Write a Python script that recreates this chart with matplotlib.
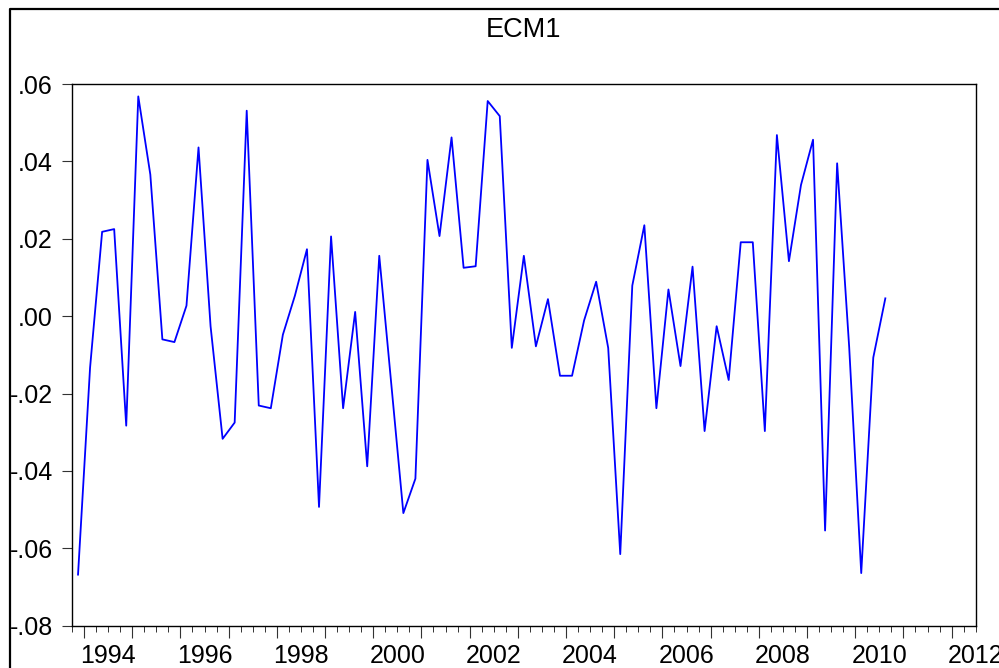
import numpy as np
import matplotlib.pyplot as plt
from matplotlib.lines import Line2D
from matplotlib.ticker import FuncFormatter, MultipleLocator

plt.rcParams['font.family'] = ['Liberation Sans', 'DejaVu Sans']

# ECM1 residual series, quarterly, 1993Q4 - 2010Q3
ecm1 = [
    -0.0668, -0.0133, 0.0218, 0.0225, -0.0283, 0.0568, 0.0366, -0.0060,
    -0.0067, 0.0027, 0.0436, -0.0026, -0.0317, -0.0275, 0.0531, -0.0231,
    -0.0238, -0.0048, 0.0053, 0.0173, -0.0493, 0.0206, -0.0238, 0.0011,
    -0.0388, 0.0156, -0.0176, -0.0509, -0.0420, 0.0404, 0.0207, 0.0462,
    0.0125, 0.0129, 0.0556, 0.0517, -0.0082, 0.0156, -0.0078, 0.0044,
    -0.0154, -0.0154, -0.0011, 0.0089, -0.0082, -0.0615, 0.0079, 0.0235,
    -0.0238, 0.0069, -0.0129, 0.0128, -0.0297, -0.0026, -0.0165, 0.0191,
    0.0191, -0.0297, 0.0468, 0.0142, 0.0339, 0.0456, -0.0554, 0.0395,
    -0.0080, -0.0664, -0.0107, 0.0046,
]
first_year, first_quarter = 1993, 4
year_labels = list(range(1994, 2013, 2))

# each quarter is plotted at the middle of its interval
start = first_year + (first_quarter - 1) / 4
t = start + 0.125 + 0.25 * np.arange(len(ecm1))

W, H = 999, 668
fig = plt.figure(figsize=(W / 100, H / 100), dpi=100)
ax = fig.add_axes([72 / W, 1 - 625.7 / H, 903.7 / W, 541.7 / H])

ax.plot(t, ecm1, color='#0000ff', lw=1.3)

ax.set_xlim(start, 2012.5)
ax.set_ylim(-0.08, 0.06)


def dot_fmt(v, pos):
    s = f'{round(v, 4):.2f}'
    return s.replace('0.', '.', 1)


ax.yaxis.set_major_locator(MultipleLocator(0.02))
ax.yaxis.set_major_formatter(FuncFormatter(dot_fmt))
ax.tick_params(axis='y', direction='out', length=7.2, width=0.8,
               color='#333333', pad=6.5, labelsize=18)

ax.xaxis.set_major_locator(MultipleLocator(1))
ax.xaxis.set_minor_locator(MultipleLocator(0.25))
ax.tick_params(axis='x', which='major', direction='out', length=8.5,
               width=0.8, color='#333333', labelbottom=False)
ax.tick_params(axis='x', which='minor', direction='out', length=4.5,
               width=0.7, color='#333333')

for yr in year_labels:
    ax.text(yr + 0.5, -0.034, str(yr), transform=ax.get_xaxis_transform(),
            ha='center', va='top', fontsize=18)

for sp in ax.spines.values():
    sp.set_linewidth(1.0)
    sp.set_color('black')

fig.text((72 + 975.7) / 2 / W, 1 - 30 / H, 'ECM1', ha='center', va='center',
         fontsize=19.5)

# outer frame of the graph window
fig.add_artist(Line2D([10 / W, 10 / W, 1], [0, 1 - 9 / H, 1 - 9 / H],
                      transform=fig.transFigure, color='black', lw=1.6))

fig.savefig('out.png', dpi=100)
